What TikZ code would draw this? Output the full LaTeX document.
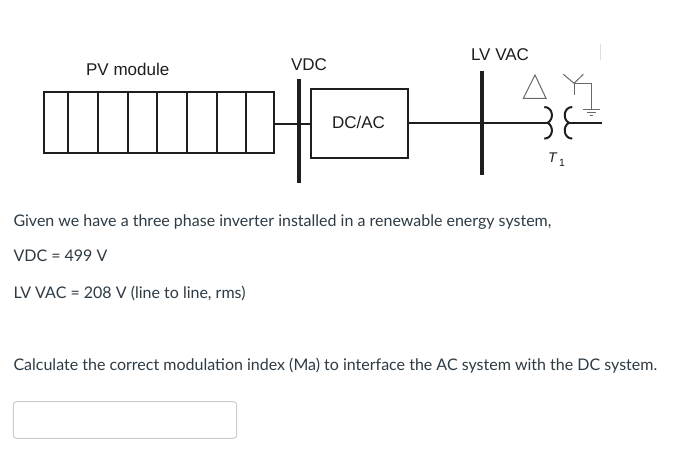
\documentclass[tikz,border=0pt]{standalone}
\usepackage{fontspec}
\setmainfont{Lato}
\newfontfamily\labfont{Liberation Sans}
\definecolor{txt}{RGB}{45,59,69}
\definecolor{dia}{RGB}{30,30,30}
\definecolor{thin}{RGB}{105,105,105}
\definecolor{faint}{RGB}{222,222,222}
\definecolor{inbox}{RGB}{199,205,209}
\tikzset{
  pvbox/.style={draw=dia, line width=2pt, inner sep=0pt, anchor=north west},
  wire/.style={draw=dia, line width=1.8pt},
  busbar/.style={draw=dia, line width=4pt},
  coil/.style={draw=dia, line width=2pt},
  sym/.style={draw=thin, line width=1pt},
  lab/.style={font=\labfont\fontsize{17}{19}\selectfont, text=dia, inner sep=0pt, anchor=base},
  body/.style={font=\fontsize{16}{19}\selectfont, text=txt, inner sep=0pt, anchor=base west},
}
\begin{document}
\begin{tikzpicture}[x=1pt,y=-1pt]
\useasboundingbox (0,0) rectangle (696,456);
\fill[white] (0,0) rectangle (696,456);

% PV module
\node[pvbox, minimum width=229.8pt, minimum height=60.7pt] (pv) at (42.8,91) {};
\foreach \x in {68.3,98.3,128.3,157.3,186.7,216.7,246.2}
  \draw[draw=dia, line width=2pt] (\x,91) -- (\x,151.7);
\node[lab] (pvlab) at (127.7,75) {PV module};

% DC bus
\coordinate (vdctop) at (299,79.3);
\coordinate (vdcbot) at (299,182.7);
\draw[busbar] (vdctop) -- (vdcbot);
\node[lab] (vdclab) at (309,70.7) {VDC};

% DC/AC converter
\node[pvbox, minimum width=97pt, minimum height=69pt] (dcac) at (309.8,88.3) {};
\node[lab] (dcaclab) at (358.5,128.3) {DC/AC};
\draw[wire] (pv.east |- 0,124.3) -- (dcac.west |- 0,124.3);

% AC bus
\coordinate (actop) at (481.7,70.7);
\coordinate (acbot) at (481.7,175);
\draw[busbar] (actop) -- (acbot);
\node[lab] (aclab) at (500,60.7) {LV VAC};

% transformer
\coordinate (cl) at (547.7,122.8);
\coordinate (cr) at (568.9,122.8);
\coordinate (out) at (601.7,122.8);
\draw[wire] (dcac.east |- cl) -- (cl);
\draw[wire] (cr) -- (out);
\draw[coil] (544.3,107) .. controls (552.8,107) and (554.5,119) .. (cl)
            .. controls (554.5,126.6) and (552.8,138.6) .. (544.3,138.6);
\draw[coil] (572.3,107) .. controls (563.8,107) and (562.1,119) .. (cr)
            .. controls (562.1,126.6) and (563.8,138.6) .. (572.3,138.6);
\node[font=\labfont\itshape\fontsize{14}{16}\selectfont, text=dia, inner sep=0pt, anchor=base west] (tlab) at (547.8,162) {T};
\node[font=\labfont\fontsize{10.5}{12}\selectfont, text=dia, inner sep=0pt, anchor=base west] (tsub) at (558.8,166.7) {1};

% delta symbol
\draw[sym] (535,75) -- (546,98.3) -- (523.3,98.3) -- cycle;
% wye with ground
\coordinate (yj) at (574,83.3);
\draw[sym] (563.3,74.3) -- (yj) -- (583.3,74.3);
\draw[sym] (yj) -- (574,95);
\draw[sym] (yj) -- (591.3,83.3) -- (591.3,109.3);
\draw[sym] (582.7,109.3) -- (599.9,109.3);
\draw[sym] (586.8,112.3) -- (595.8,112.3);
\draw[sym] (589.8,115.2) -- (592.8,115.2);

% faint mark
\draw[faint, line width=0.8pt] (600.6,44) -- (600.6,60);

% question text
\node[body] (t1) at (13.3,226.7) {Given we have a three phase inverter installed in a renewable energy system,};
\node[body] (t2) at (13.3,261.7) {VDC = 499 V};
\node[body] (t3) at (13.3,298.3) {LV VAC = 208 V (line to line, rms)};
\node[body] (t4) at (13.3,370.7) {Calculate the correct modulation index (Ma) to interface the AC system with the DC system.};

% answer box
\draw[inbox, line width=1pt, rounded corners=3pt, fill=white] (13.3,401.7) rectangle (236.7,438.3);
\end{tikzpicture}
\end{document}
